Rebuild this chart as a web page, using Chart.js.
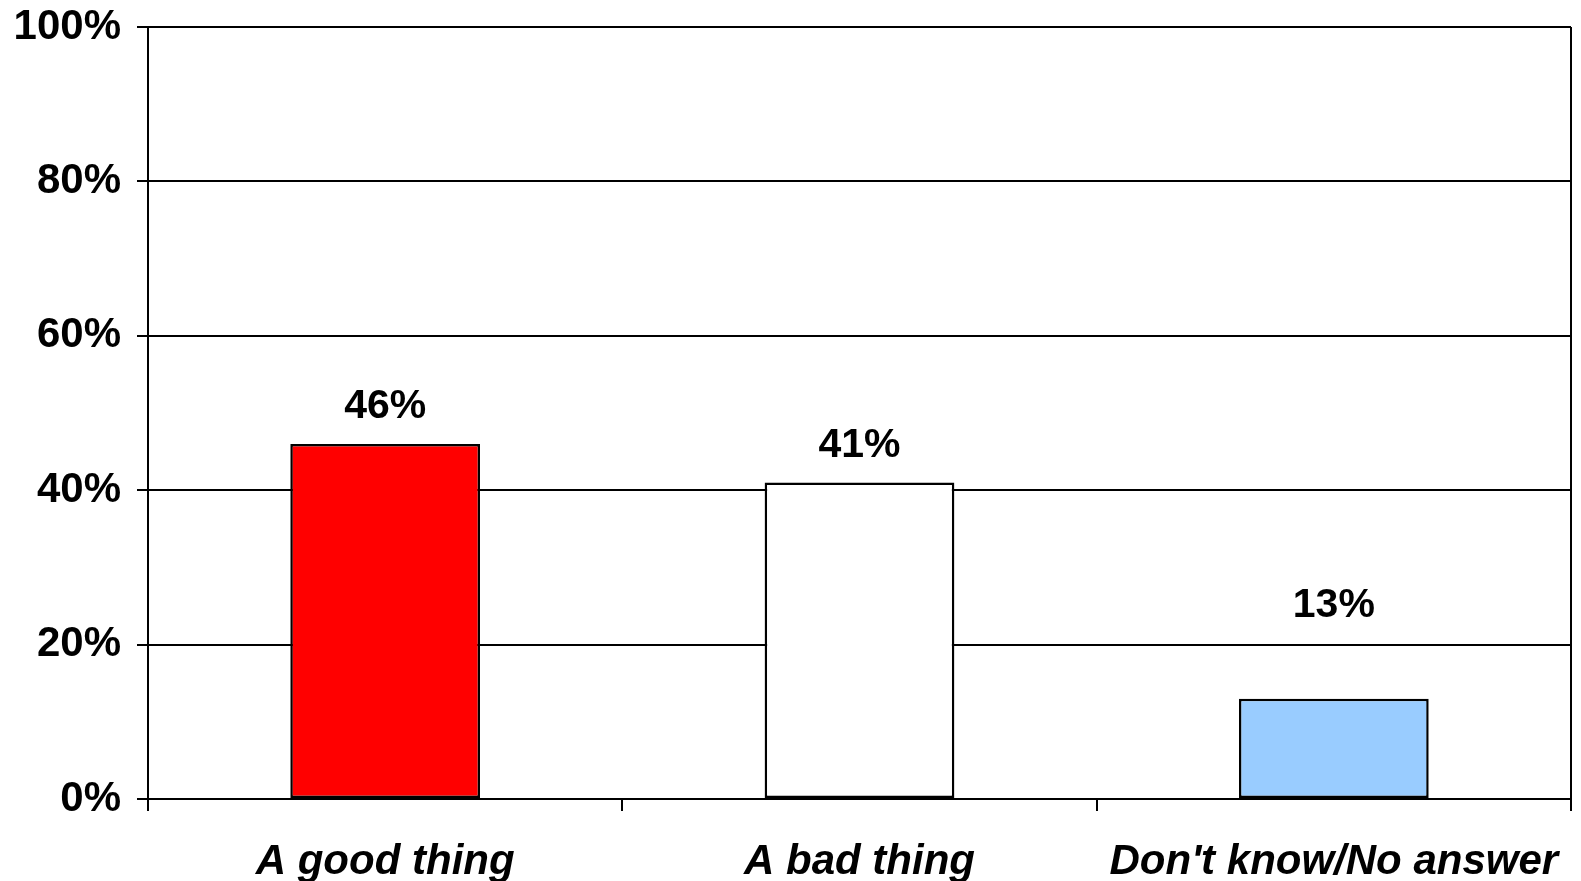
<!DOCTYPE html>
<html>
<head>
<meta charset="utf-8">
<script src="https://cdn.jsdelivr.net/npm/chart.js@4.4.1/dist/chart.umd.min.js"></script>
<style>
html,body{margin:0;padding:0;background:#fff;}
canvas{display:block;}
</style>
</head>
<body>
<canvas id="c" width="1581" height="881"></canvas>
<script>
const categories = ["A good thing", "A bad thing", "Don't know/No answer"];
const values = [46, 41, 13];
const barColors = ["#FF0000", "#FFFFFF", "#99CCFF"];
const yTicks = [0, 20, 40, 60, 80, 100];

const valueLabels = {
  id: 'valueLabels',
  afterDatasetsDraw(chart, args, opts) {
    const ctx = chart.ctx;
    const meta = chart.getDatasetMeta(0);
    ctx.save();
    ctx.font = 'bold 41px "Liberation Sans", Arial, sans-serif';
    ctx.fillStyle = '#000';
    ctx.textAlign = 'center';
    ctx.textBaseline = 'middle';
    meta.data.forEach((bar, i) => {
      const lift = (opts.lift && opts.lift[i]) || 37;
      ctx.fillText(values[i] + '%', bar.x, bar.y - lift);
    });
    ctx.restore();
  }
};

new Chart(document.getElementById('c'), {
  type: 'bar',
  data: {
    labels: categories,
    datasets: [{
      data: values,
      backgroundColor: barColors,
      borderColor: '#000',
      borderWidth: 2.5,
      borderSkipped: false,
      barPercentage: 0.4,
      categoryPercentage: 1.0
    }]
  },
  options: {
    responsive: false,
    animation: false,
    devicePixelRatio: 1,
    layout: { padding: { top: 27, right: 10, left: 0, bottom: 0 } },
    plugins: {
      legend: { display: false },
      tooltip: { enabled: false },
      valueLabels: { lift: [37, 37, 93] }
    },
    scales: {
      x: {
        grid: {
          offset: true,
          drawOnChartArea: true,
          color: (c) => (c.index === undefined ? '#000' : 'rgba(0,0,0,0)'),
          tickColor: '#000',
          lineWidth: 2,
          tickLength: 12
        },
        border: { display: true, color: '#000', width: 2 },
        ticks: {
          color: '#000',
          padding: 26,
          maxRotation: 0,
          font: { family: '"Liberation Sans", Arial, sans-serif', size: 42, weight: 'bold', style: 'italic' }
        },
        afterFit(scale) { scale.height = 82; scale.paddingLeft = 0; scale.paddingRight = 0; }
      },
      y: {
        min: 0,
        max: 100,
        afterBuildTicks(scale) { scale.ticks = yTicks.map(v => ({ value: v })); },
        grid: {
          color: '#000',
          tickColor: '#000',
          lineWidth: 2,
          tickLength: 11
        },
        border: { display: true, color: '#000', width: 2 },
        ticks: {
          color: '#000',
          padding: 16,
          callback: (v) => v + '%',
          font: { family: '"Liberation Sans", Arial, sans-serif', size: 42, weight: 'bold' }
        },
        afterFit(scale) { scale.width = 148; scale.paddingTop = 0; scale.paddingBottom = 0; }
      }
    }
  },
  plugins: [valueLabels]
});
</script>
</body>
</html>
